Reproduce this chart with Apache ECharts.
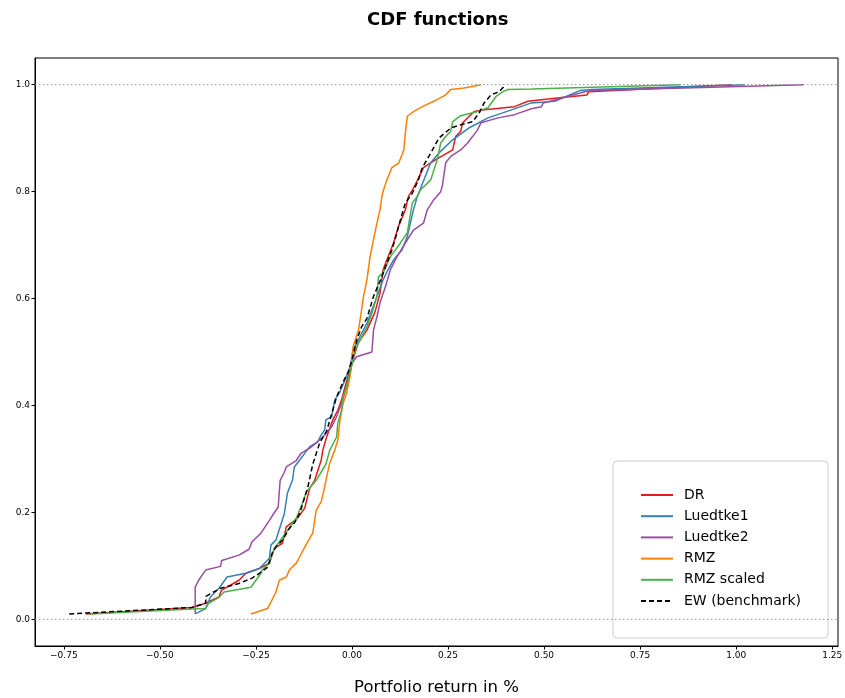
<!DOCTYPE html>
<html>
<head>
<meta charset="utf-8">
<script src="https://cdn.jsdelivr.net/npm/echarts@6/dist/echarts.min.js"></script>
<style>
  html, body { margin: 0; padding: 0; background: #fff; }
  #chart { width: 845px; height: 698px; }
</style>
</head>
<body>
<div id="chart"></div>
<script>
// Empirical CDFs of portfolio returns, one curve per weighting scheme.
const seriesNames = ['DR', 'Luedtke1', 'Luedtke2', 'RMZ', 'RMZ scaled', 'EW (benchmark)'];

const drX = [-0.693, -0.417, -0.381, -0.346, -0.34, -0.294, -0.276, -0.241, -0.215, -0.202, -0.181, -0.171, -0.142, -0.123, -0.11, -0.097, -0.08, -0.076, -0.066, -0.05, -0.037, -0.027, -0.018, -0.005, 0.008, 0.016, 0.039, 0.06, 0.073, 0.081, 0.094, 0.108, 0.121, 0.139, 0.147, 0.157, 0.165, 0.186, 0.218, 0.262, 0.27, 0.283, 0.288, 0.318, 0.344, 0.423, 0.458, 0.546, 0.612, 0.616, 0.99];
const drY = [0.01, 0.022, 0.03, 0.042, 0.054, 0.073, 0.086, 0.095, 0.105, 0.133, 0.142, 0.173, 0.189, 0.208, 0.245, 0.26, 0.298, 0.316, 0.341, 0.373, 0.391, 0.41, 0.435, 0.466, 0.498, 0.517, 0.541, 0.575, 0.61, 0.654, 0.678, 0.704, 0.735, 0.766, 0.791, 0.803, 0.813, 0.845, 0.86, 0.878, 0.903, 0.913, 0.929, 0.95, 0.953, 0.959, 0.969, 0.976, 0.981, 0.987, 1.0];

const lue1X = [-0.408, -0.381, -0.368, -0.346, -0.325, -0.276, -0.241, -0.215, -0.211, -0.198, -0.176, -0.168, -0.155, -0.15, -0.136, -0.11, -0.089, -0.08, -0.071, -0.068, -0.053, -0.045, -0.031, -0.018, -0.005, 0.003, 0.021, 0.039, 0.052, 0.065, 0.081, 0.094, 0.108, 0.13, 0.144, 0.152, 0.16, 0.17, 0.205, 0.226, 0.262, 0.304, 0.354, 0.415, 0.467, 0.528, 0.593, 0.625, 1.023];
const lue1Y = [0.01, 0.02, 0.042, 0.058, 0.079, 0.086, 0.095, 0.114, 0.139, 0.148, 0.198, 0.236, 0.26, 0.285, 0.298, 0.323, 0.332, 0.345, 0.354, 0.373, 0.379, 0.41, 0.426, 0.448, 0.472, 0.504, 0.529, 0.554, 0.579, 0.604, 0.635, 0.654, 0.672, 0.691, 0.716, 0.741, 0.766, 0.791, 0.854, 0.872, 0.897, 0.919, 0.938, 0.953, 0.966, 0.969, 0.989, 0.991, 1.0];

const lue2X = [-0.408, -0.408, -0.399, -0.381, -0.342, -0.339, -0.294, -0.268, -0.26, -0.237, -0.215, -0.198, -0.192, -0.187, -0.176, -0.171, -0.145, -0.132, -0.11, -0.093, -0.076, -0.053, -0.04, -0.027, -0.014, -0.005, 0.0, 0.012, 0.052, 0.056, 0.065, 0.073, 0.087, 0.1, 0.117, 0.144, 0.16, 0.186, 0.196, 0.213, 0.231, 0.235, 0.244, 0.257, 0.283, 0.301, 0.314, 0.327, 0.336, 0.38, 0.423, 0.467, 0.493, 0.498, 0.606, 0.625, 1.175];
const lue2Y = [0.01, 0.06, 0.073, 0.092, 0.099, 0.11, 0.12, 0.131, 0.145, 0.161, 0.185, 0.204, 0.21, 0.26, 0.275, 0.285, 0.297, 0.311, 0.32, 0.33, 0.341, 0.36, 0.379, 0.404, 0.435, 0.46, 0.479, 0.491, 0.5, 0.541, 0.566, 0.592, 0.622, 0.654, 0.678, 0.71, 0.728, 0.741, 0.766, 0.785, 0.8, 0.81, 0.854, 0.866, 0.878, 0.891, 0.903, 0.916, 0.929, 0.938, 0.944, 0.955, 0.959, 0.966, 0.987, 0.989, 1.0];

const rmzX = [-0.263, -0.22, -0.211, -0.198, -0.189, -0.171, -0.163, -0.145, -0.136, -0.123, -0.11, -0.102, -0.093, -0.08, -0.074, -0.066, -0.058, -0.045, -0.037, -0.031, -0.023, -0.014, -0.005, 0.0, 0.003, 0.017, 0.025, 0.03, 0.039, 0.047, 0.056, 0.065, 0.073, 0.078, 0.082, 0.091, 0.104, 0.122, 0.135, 0.139, 0.144, 0.161, 0.183, 0.213, 0.244, 0.257, 0.292, 0.336];
const rmzY = [0.01, 0.02, 0.032, 0.051, 0.073, 0.079, 0.092, 0.105, 0.117, 0.135, 0.152, 0.161, 0.204, 0.22, 0.238, 0.266, 0.292, 0.316, 0.335, 0.373, 0.404, 0.423, 0.454, 0.491, 0.51, 0.541, 0.579, 0.604, 0.635, 0.678, 0.71, 0.741, 0.766, 0.791, 0.803, 0.822, 0.845, 0.854, 0.878, 0.91, 0.941, 0.95, 0.959, 0.969, 0.981, 0.991, 0.994, 1.0];

const rmzsX = [-0.683, -0.417, -0.381, -0.373, -0.346, -0.333, -0.263, -0.237, -0.234, -0.215, -0.202, -0.189, -0.145, -0.129, -0.119, -0.093, -0.068, -0.058, -0.04, -0.037, -0.027, -0.023, -0.014, -0.005, 0.008, 0.021, 0.039, 0.052, 0.065, 0.069, 0.081, 0.1, 0.126, 0.144, 0.157, 0.17, 0.178, 0.205, 0.222, 0.231, 0.244, 0.257, 0.262, 0.283, 0.327, 0.354, 0.375, 0.393, 0.406, 0.467, 0.856];
const rmzsY = [0.01, 0.019, 0.02, 0.03, 0.041, 0.051, 0.06, 0.086, 0.092, 0.105, 0.133, 0.145, 0.189, 0.217, 0.238, 0.26, 0.29, 0.316, 0.341, 0.367, 0.391, 0.416, 0.435, 0.46, 0.504, 0.522, 0.547, 0.573, 0.604, 0.641, 0.648, 0.678, 0.704, 0.723, 0.779, 0.791, 0.803, 0.822, 0.86, 0.891, 0.903, 0.913, 0.931, 0.942, 0.95, 0.957, 0.978, 0.987, 0.991, 0.992, 1.0];

const ewX = [-0.736, -0.417, -0.381, -0.38, -0.368, -0.342, -0.294, -0.26, -0.241, -0.22, -0.207, -0.198, -0.181, -0.163, -0.15, -0.136, -0.115, -0.102, -0.084, -0.066, -0.05, -0.04, -0.023, -0.01, 0.0, 0.012, 0.025, 0.039, 0.056, 0.078, 0.091, 0.104, 0.117, 0.126, 0.139, 0.157, 0.173, 0.183, 0.205, 0.226, 0.257, 0.283, 0.314, 0.331, 0.344, 0.362, 0.383, 0.4];
const ewY = [0.01, 0.022, 0.03, 0.043, 0.048, 0.058, 0.067, 0.077, 0.086, 0.097, 0.125, 0.135, 0.148, 0.17, 0.18, 0.198, 0.247, 0.29, 0.33, 0.352, 0.391, 0.416, 0.444, 0.462, 0.485, 0.522, 0.547, 0.563, 0.604, 0.641, 0.667, 0.691, 0.723, 0.747, 0.779, 0.797, 0.822, 0.845, 0.872, 0.9, 0.919, 0.925, 0.931, 0.947, 0.966, 0.981, 0.987, 1.0];

const xTicks = [-0.75, -0.5, -0.25, 0, 0.25, 0.5, 0.75, 1.0, 1.25];
const yTicks = [0, 0.2, 0.4, 0.6, 0.8, 1.0];
const refLevels = [0, 1];

const colors = ['#e41a1c', '#377eb8', '#984ea3', '#ff7f00', '#4daf4a', '#000000'];
const xs = [drX, lue1X, lue2X, rmzX, rmzsX, ewX];
const ys = [drY, lue1Y, lue2Y, rmzY, rmzsY, ewY];

const zip = (a, b) => a.map((v, i) => [v, b[i]]);
const fmtMinus = s => s.replace('-', '\u2212');

const series = seriesNames.map((name, i) => ({
  name,
  type: 'line',
  data: zip(xs[i], ys[i]),
  showSymbol: false,
  symbol: 'none',
  silent: true,
  lineStyle: {
    color: colors[i],
    width: 1.5,
    type: i === 5 ? [5, 3] : 'solid'
  },
  itemStyle: { color: colors[i] }
}));

// Dotted reference lines at the CDF bounds 0 and 1
series[0].markLine = {
  silent: true,
  symbol: ['none', 'none'],
  label: { show: false },
  lineStyle: { color: '#999', type: [1.5, 2.5], width: 1 },
  data: refLevels.map(v => ({ yAxis: v }))
};

const chart = echarts.init(document.getElementById('chart'), null, { renderer: 'canvas' });
chart.setOption({
  animation: false,
  backgroundColor: '#fff',
  textStyle: { fontFamily: 'DejaVu Sans' },
  title: {
    text: 'CDF functions',
    left: 362,
    top: 6,
    textStyle: { fontSize: 18, fontWeight: 'bold', color: '#000', fontFamily: 'DejaVu Sans' }
  },
  grid: {
    left: 35, right: 7, top: 58, bottom: 52,
    outerBoundsMode: 'none',
    containLabel: false,
    show: true, borderColor: '#000', borderWidth: 1, backgroundColor: '#fff'
  },
  legend: {
    orient: 'vertical',
    left: 613,
    top: 461,
    padding: [27, 27, 30, 27],
    itemWidth: 32,
    itemHeight: 14,
    itemGap: 7.2,
    borderColor: '#ccc',
    borderWidth: 1,
    borderRadius: 4,
    backgroundColor: 'rgba(255,255,255,0.8)',
    itemStyle: { opacity: 0 },
    textStyle: { fontSize: 14, color: '#000', fontFamily: 'DejaVu Sans', padding: [0, 0, 0, 6] },
    data: seriesNames
  },
  xAxis: {
    type: 'value',
    min: -0.825,
    max: 1.265,
    name: 'Portfolio return in %',
    nameLocation: 'middle',
    nameGap: 33,
    nameTextStyle: { fontSize: 16.5, color: '#000', fontFamily: 'DejaVu Sans' },
    axisLine: { show: true, onZero: false, lineStyle: { color: '#000', width: 1 } },
    axisTick: { show: true, length: 3.5, customValues: xTicks, lineStyle: { color: '#000' } },
    axisLabel: {
      customValues: xTicks,
      fontSize: 9,
      color: '#000',
      margin: 5,
      formatter: v => fmtMinus(v.toFixed(2))
    },
    splitLine: { show: false }
  },
  yAxis: {
    type: 'value',
    min: -0.05,
    max: 1.05,
    axisLine: { show: true, onZero: false, lineStyle: { color: '#000', width: 1 } },
    axisTick: { show: true, length: 3.5, customValues: yTicks, lineStyle: { color: '#000' } },
    axisLabel: {
      customValues: yTicks,
      fontSize: 9,
      color: '#000',
      margin: 5,
      formatter: v => fmtMinus(v.toFixed(1))
    },
    splitLine: { show: false }
  },
  series
});
</script>
</body>
</html>
